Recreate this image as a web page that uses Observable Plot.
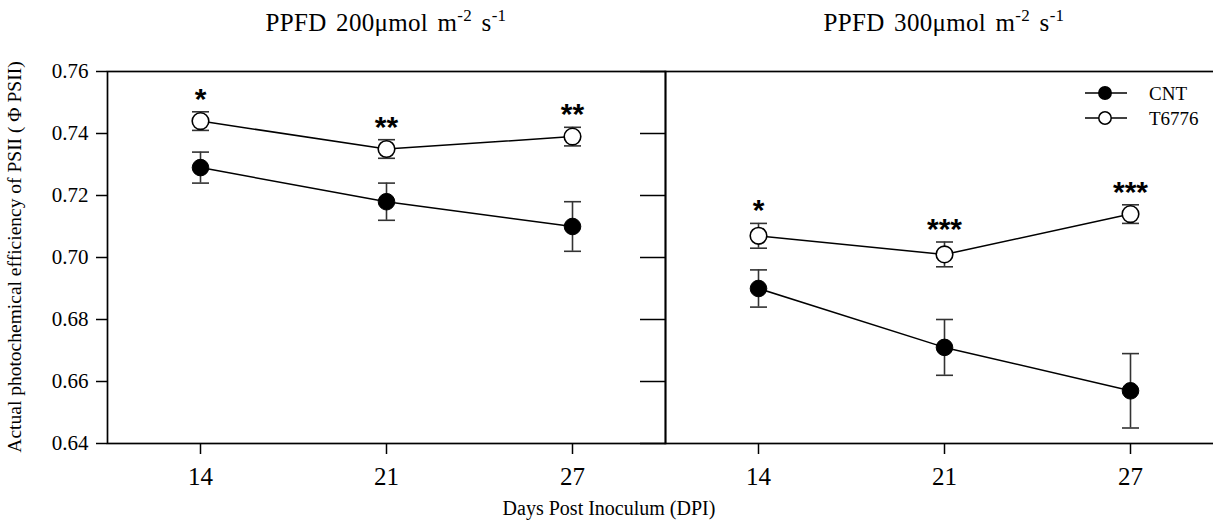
<!DOCTYPE html>
<html>
<head>
<meta charset="utf-8">
<script src="https://cdn.jsdelivr.net/npm/d3@7"></script>
<script src="https://cdn.jsdelivr.net/npm/@observablehq/plot@0.6"></script>
<style>
  html, body { margin: 0; padding: 0; background: #fff; overflow: hidden; }
  #wrap { position: relative; width: 1213px; height: 523px; overflow: hidden; font-family: "Liberation Serif", "Times New Roman", serif; color: #000; }
  #wrap > svg#chart { position: absolute; left: 0; top: 0; max-width: none !important; width: 1223px !important; height: 523px !important; }
  .title { position: absolute; top: 9px; font-size: 25px; white-space: nowrap; transform: translateX(-50%); word-spacing: 3px; letter-spacing: 0.3px; }
  .title sup { font-size: 17px; vertical-align: 0; position: relative; top: -10px; }
  .ylabel { position: absolute; left: 15px; top: 257px; font-size: 19.5px; white-space: nowrap; transform: translate(-50%, -50%) rotate(-90deg); }
  .xlabel { position: absolute; left: 609px; top: 497px; font-size: 20px; white-space: nowrap; transform: translateX(-50%); }
  #wrap > svg#legend { position: absolute; left: 1085px; top: 81px; width: 128px; height: 60px; max-width: none; }
</style>
</head>
<body>
<div id="wrap"></div>
<script>
// ---------- data ----------
const panels = ["200", "300"];
const panelTitles = ["PPFD 200\u03bcmol m<sup>-2</sup> s<sup>-1</sup>", "PPFD 300\u03bcmol m<sup>-2</sup> s<sup>-1</sup>"];
const days = [14, 21, 27];
const seriesNames = ["CNT", "T6776"];
const yTicks = [0.64, 0.66, 0.68, 0.70, 0.72, 0.74, 0.76];

const cnt200 = [0.729, 0.718, 0.710];
const cntErr200 = [0.005, 0.006, 0.008];
const t200 = [0.744, 0.735, 0.739];
const tErr200 = [0.003, 0.003, 0.003];
const sig200 = ["*", "**", "**"];

const cnt300 = [0.690, 0.671, 0.657];
const cntErr300 = [0.006, 0.009, 0.012];
const t300 = [0.707, 0.701, 0.714];
const tErr300 = [0.004, 0.004, 0.003];
const sig300 = ["*", "***", "***"];

const xLabel = "Days Post Inoculum (DPI)";
const yLabel = "Actual photochemical efficiency of PSII ( \u03a6 PSII)";

// ---------- table ----------
const cntMeans = [cnt200, cnt300], cntErrs = [cntErr200, cntErr300];
const tMeans = [t200, t300], tErrs = [tErr200, tErr300], sigs = [sig200, sig300];
const rows = [];
panels.forEach((p, pi) => days.forEach((d, di) => {
  rows.push({panel: p, day: d, series: seriesNames[0], mean: cntMeans[pi][di], err: cntErrs[pi][di], sig: ""});
  rows.push({panel: p, day: d, series: seriesNames[1], mean: tMeans[pi][di], err: tErrs[pi][di], sig: sigs[pi][di]});
}));
const cntRows = rows.filter(r => r.series === seriesNames[0]);
const tRows = rows.filter(r => r.series === seriesNames[1]);

// horizontal cap symbol for error bars
const cap = {draw(ctx, size) { const w = Math.sqrt(size / Math.PI); ctx.moveTo(-w, 0); ctx.lineTo(w, 0); }};

const serif = '"Liberation Serif", "Times New Roman", serif';
const errColor = "#333";

const chart = Plot.plot({
  width: 1223, height: 523,
  marginTop: 71, marginBottom: 80, marginLeft: 107, marginRight: 0,
  style: {fontFamily: serif, background: "white", color: "black", overflow: "visible", maxWidth: "none"},
  fx: {domain: panels, padding: 0, axis: null, label: null},
  x: {type: "point", domain: days, padding: 0.5, label: null},
  y: {domain: [0.64, 0.76], label: null},
  marks: [
    Plot.frame({stroke: "black", strokeWidth: 1.7}),
    Plot.axisY({facetAnchor: "left", anchor: "left", ticks: yTicks, tickSize: 11, tickPadding: 8,
      tickFormat: d3.format(".2f"), fontSize: 21, strokeWidth: 1.5, label: null}),
    Plot.axisY({facetAnchor: "right", anchor: "left", ticks: yTicks, tickSize: 25,
      tickFormat: () => "", strokeWidth: 1.5, label: null}),
    Plot.axisX({ticks: days, tickSize: 11, tickPadding: 13, fontSize: 25, strokeWidth: 1.5, label: null}),
    Plot.line(rows, {fx: "panel", x: "day", y: "mean", z: "series", stroke: "black", strokeWidth: 1.5}),
    Plot.ruleX(rows, {fx: "panel", x: "day", y1: d => d.mean - d.err, y2: d => d.mean + d.err, stroke: errColor, strokeWidth: 1.6}),
    Plot.dot(rows, {fx: "panel", x: "day", y: d => d.mean + d.err, symbol: cap, r: 8.5, stroke: errColor, fill: "none", strokeWidth: 1.6}),
    Plot.dot(rows, {fx: "panel", x: "day", y: d => d.mean - d.err, symbol: cap, r: 8.5, stroke: errColor, fill: "none", strokeWidth: 1.6}),
    Plot.dot(cntRows, {fx: "panel", x: "day", y: "mean", r: 8.3, fill: "black", stroke: "black", strokeWidth: 1}),
    Plot.dot(tRows, {fx: "panel", x: "day", y: "mean", r: 8.3, fill: "white", stroke: "black", strokeWidth: 1.6}),
    Plot.text(tRows, {fx: "panel", x: "day", y: d => d.mean + d.err, text: "sig", lineAnchor: "bottom", dy: -3,
      fontSize: 30, fontWeight: "bold", fontFamily: '"Liberation Sans", Arial, sans-serif', fill: "black"})
  ]
});
chart.setAttribute("id", "chart");

const wrap = document.getElementById("wrap");
wrap.appendChild(chart);

// titles centered over each panel
const fx = chart.scale("fx");
panels.forEach((p, i) => {
  const t = document.createElement("div");
  t.className = "title";
  t.innerHTML = panelTitles[i];
  const center = fx.apply(p) + fx.bandwidth / 2;
  t.style.left = center + "px";
  wrap.appendChild(t);
});

const yl = document.createElement("div");
yl.className = "ylabel"; yl.textContent = yLabel; wrap.appendChild(yl);
const xl = document.createElement("div");
xl.className = "xlabel"; xl.textContent = xLabel; wrap.appendChild(xl);

// legend (small inline SVG)
const ns = "http://www.w3.org/2000/svg";
const lg = document.createElementNS(ns, "svg");
lg.setAttribute("id", "legend");
lg.setAttribute("width", 128); lg.setAttribute("height", 60);
lg.setAttribute("viewBox", "0 0 128 60");
let html = "";
seriesNames.forEach((s, i) => {
  const cy = 12 + i * 25;
  const fill = i === 0 ? "black" : "white";
  html += `<line x1="0" x2="42" y1="${cy}" y2="${cy}" stroke="black" stroke-width="1.5"/>`;
  html += `<circle cx="20" cy="${cy}" r="6.2" fill="${fill}" stroke="black" stroke-width="1.5"/>`;
  html += `<text x="64" y="${cy + 6.5}" font-family='"Liberation Serif", "Times New Roman", serif' font-size="19" fill="black">${s}</text>`;
});
lg.innerHTML = html;
wrap.appendChild(lg);
</script>
</body>
</html>
